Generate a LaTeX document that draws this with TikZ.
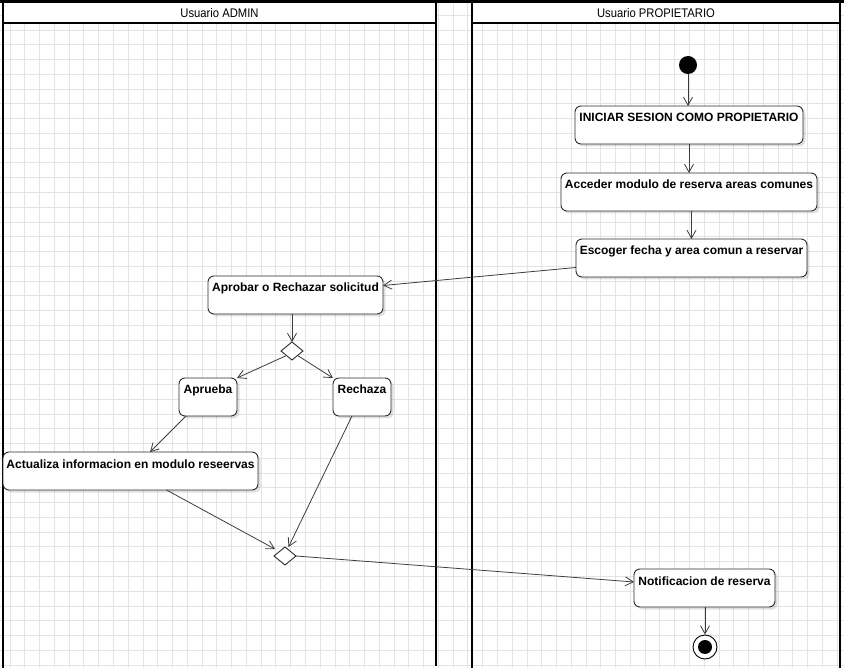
\documentclass[tikz,border=0pt]{standalone}
\usepackage{fontspec}
\setmainfont{Liberation Sans}
\newfontfamily\headfont[FakeStretch=0.9]{Liberation Sans}
\usetikzlibrary{arrows.meta,shapes.geometric,shadows}
\definecolor{gridc}{RGB}{228,228,228}
\definecolor{linec}{RGB}{60,60,60}
\definecolor{boxc}{RGB}{45,45,45}
\begin{document}
\begin{tikzpicture}[x=1pt,y=-1pt,
  act/.style={draw=boxc, line width=0.9pt, rounded corners=6pt, fill=white,
    font=\fontsize{12}{14}\selectfont\bfseries, text height=13pt, text depth=19pt,
    inner ysep=3pt, inner xsep=0pt, outer sep=0pt, anchor=north west,
    drop shadow={shadow xshift=2.5pt, shadow yshift=-2.5pt, fill=black, opacity=0.12}},
  dec/.style={diamond, draw=boxc, line width=0.9pt, fill=white, minimum width=22pt,
    minimum height=18pt, inner sep=0pt, outer sep=0pt},
  flow/.style={draw=linec, line width=0.8pt, -{Straight Barb[length=8pt,width=9pt]}},
  lane/.style={draw=black, line width=2pt},
  headtext/.style={font=\headfont\fontsize{12.5}{14}\selectfont, inner sep=0pt}
]
\useasboundingbox (0,0) rectangle (844,668);
% grid
\foreach \i in {0,...,56} \draw[gridc, line width=0.8pt] ({10+14.77*\i},0) -- ({10+14.77*\i},668);
\foreach \j in {0,...,45} \draw[gridc, line width=0.8pt] (0,{0.4+14.77*\j}) -- (844,{0.4+14.77*\j});
% lane headers
\fill[white] (3,3) rectangle (436,23);
\fill[white] (472,3) rectangle (840,23);
\draw[lane] (3,3) -- (3,668);
\draw[lane] (436,3) -- (436,666);
\draw[lane] (3,23) -- (436,23);
\draw[lane] (472,3) -- (472,668);
\draw[lane] (840,3) -- (840,668);
\draw[lane] (472,23) -- (840,23);
\draw[black, line width=3pt] (0,1.5) -- (844,1.5);
\node[headtext] (hA) at (219.5,13) {Usuario ADMIN};
\node[headtext] (hP) at (656,13) {Usuario PROPIETARIO};
% nodes
\node[circle, fill=black, minimum size=18pt, inner sep=0pt] (start) at (688,65) {};
\node[act, minimum width=228pt] (ini) at (575,106) {INICIAR SESION COMO PROPIETARIO};
\node[act, minimum width=256pt] (acc) at (561,173) {Acceder modulo de reserva areas comunes};
\node[act, minimum width=231pt] (esc) at (576,239) {Escoger fecha y area comun a reservar};
\node[act, minimum width=175pt] (apr) at (208,276) {Aprobar o Rechazar solicitud};
\node[dec] (d1) at (292,351) {};
\node[act, minimum width=58pt] (aprb) at (179,378) {Aprueba};
\node[act, minimum width=58pt] (rech) at (333,378) {Rechaza};
\node[act, minimum width=255pt] (actu) at (3,452) {Actualiza informacion en modulo reseervas};
\node[dec] (d2) at (285,556) {};
\node[act, minimum width=141pt] (notif) at (634,569) {Notificacion de reserva};
\node[circle, draw=black, line width=0.9pt, fill=white, minimum size=24pt, inner sep=0pt] (fin) at (705,647) {};
\fill[black] (fin.center) circle (7pt);
% connectors
\draw[flow] (start) -- (start |- ini.north);
\draw[flow] (ini) -- (acc);
\draw[flow] (acc.south -| esc.north) -- (esc.north);
\draw[flow] ([yshift=-9.5pt]esc.west) -- ([yshift=9.5pt]apr.east);
\draw[flow] (apr.south -| d1.north) -- (d1.north);
\draw[flow] (d1.south west) -- (aprb.north east);
\draw[flow] (d1.south east) -- (rech.north west);
\draw[flow] ([xshift=7pt]aprb.south west) -- ([xshift=19.5pt]actu.north);
\draw[flow] ([xshift=-10pt]rech.south) -- ([xshift=3.5pt]d2.north);
\draw[flow, shorten >=5pt] ([xshift=36pt]actu.south) -- (d2.north west);
\draw[flow] (d2.east) -- ([yshift=6pt]notif.west);
\draw[flow] (notif.south -| fin.north) -- (fin.north);
\end{tikzpicture}
\end{document}
